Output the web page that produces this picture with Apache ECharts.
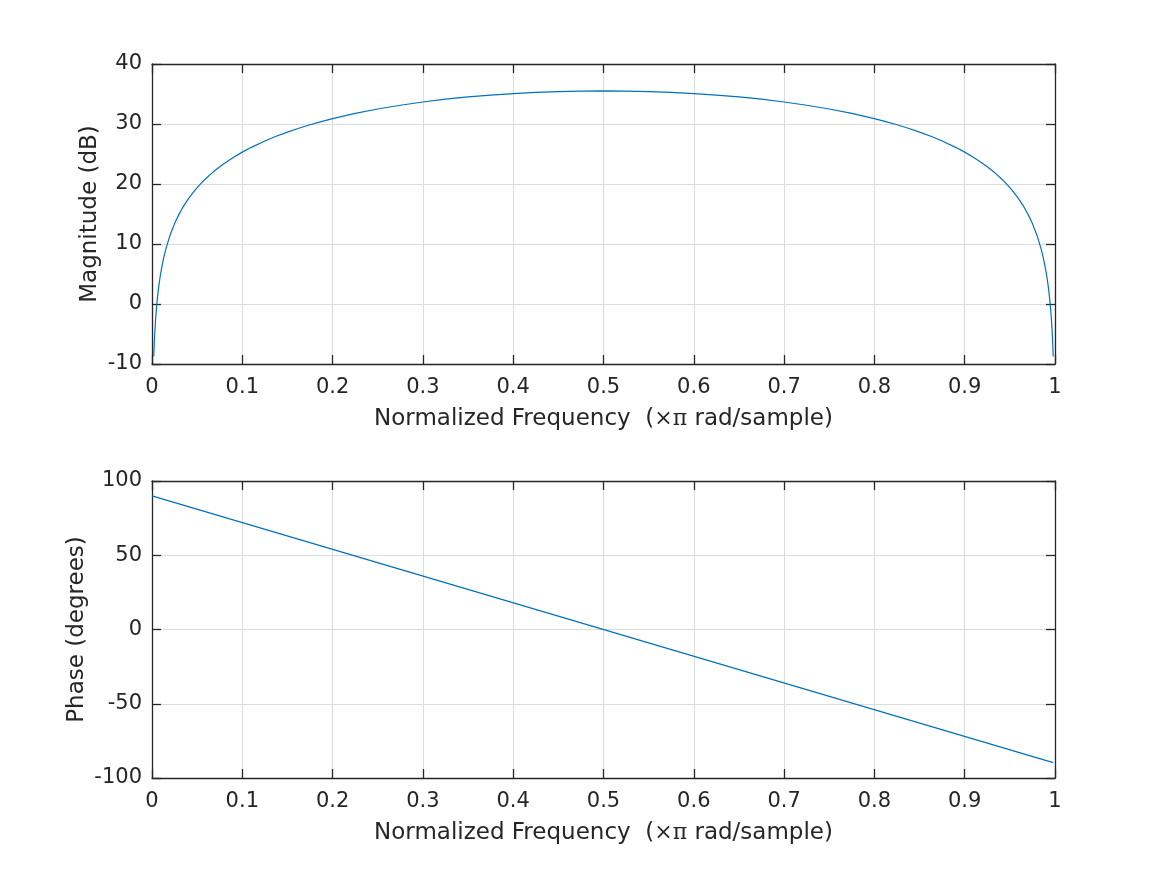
<!DOCTYPE html>
<html lang="en">
<head>
    <meta charset="UTF-8">
    <title>freqz</title>
    <script src="https://cdn.jsdelivr.net/npm/echarts@6/dist/echarts.min.js"></script>
</head>
<body style="margin:0;background:#fff;">
<div id="main" style="width: 1167px;height:875px;"></div>
<script type="text/javascript">
    // values
    var magFreq = [0.00195, 0.0025, 0.003, 0.004, 0.005, 0.006, 0.007, 0.008, 0.009, 0.01, 0.0125, 0.015, 0.02,
        0.025, 0.03, 0.035, 0.04, 0.045, 0.05, 0.055, 0.06, 0.065, 0.07, 0.075, 0.08, 0.09, 0.1, 0.11, 0.125,
        0.1375, 0.15, 0.1625, 0.175, 0.1875, 0.2, 0.225, 0.25, 0.275, 0.3, 0.325, 0.35, 0.375, 0.4, 0.425, 0.45,
        0.475, 0.5,
        0.525, 0.55, 0.575, 0.6, 0.625, 0.65, 0.675, 0.7, 0.725, 0.75, 0.775, 0.8, 0.8125, 0.825, 0.8375, 0.85,
        0.8625, 0.875, 0.89, 0.9, 0.91, 0.92, 0.925, 0.93, 0.935, 0.94, 0.945, 0.95, 0.955, 0.96, 0.965, 0.97,
        0.975, 0.98, 0.985, 0.9875, 0.99, 0.991, 0.992, 0.993, 0.994, 0.995, 0.996, 0.997, 0.9975, 0.99805];
    var magDb = [-8.73, -6.59, -5.00, -2.51, -0.57, 1.02, 2.36, 3.52, 4.54, 5.45, 7.39, 8.97, 11.47,
        13.40, 14.98, 16.32, 17.47, 18.49, 19.40, 20.22, 20.96, 21.65, 22.28, 22.87, 23.42, 24.42, 25.31, 26.11, 27.17,
        27.95, 28.65, 29.29, 29.87, 30.40, 30.89, 31.76, 32.50, 33.13, 33.67, 34.13, 34.51, 34.82, 35.07, 35.27, 35.40,
        35.48, 35.51,
        35.48, 35.40, 35.27, 35.07, 34.82, 34.51, 34.13, 33.67, 33.13, 32.50, 31.76, 30.89, 30.40, 29.87, 29.29, 28.65,
        27.95, 27.17, 26.11, 25.31, 24.42, 23.42, 22.87, 22.28, 21.65, 20.96, 20.22, 19.40, 18.49, 17.47, 16.32, 14.98,
        13.40, 11.47, 8.97, 7.39, 5.45, 4.54, 3.52, 2.36, 1.02, -0.57, -2.51, -5.00, -6.59, -8.73];
    var phaseFreq = [0, 0.998];
    var phaseDeg = [90, -89.65];

    var xTitle = 'Normalized Frequency  ({pi|\u00d7\u03c0} rad/sample)';

    function zip(a, b) {
        var out = [];
        for (var i = 0; i < a.length; i++) out.push([a[i], b[i]]);
        return out;
    }

    var txt = '#262626';
    var font = 'DejaVu Sans';
    var line = {show: true, onZero: false, lineStyle: {color: txt, width: 1.3}};
    var tick = {show: true, inside: true, length: 9, lineStyle: {color: txt, width: 1.3}};
    var grid = {show: true, lineStyle: {color: '#dcdcdc', width: 1}};

    function bottomX(idx) {
        return {
            type: 'value', gridIndex: idx, min: 0, max: 1, interval: 0.1, position: 'bottom',
            name: xTitle, nameLocation: 'middle', nameGap: 44, nameMoveOverlap: false,
            nameTextStyle: {color: txt, fontSize: 23, fontFamily: font,
                rich: {pi: {fontFamily: 'DejaVu Serif', fontSize: 22, color: txt}}},
            axisLine: line, axisTick: tick,
            axisLabel: {color: txt, fontSize: 21, fontFamily: font, margin: 13,
                formatter: function (v) { return +v.toFixed(1) + ''; }},
            splitLine: grid
        };
    }
    function topX(idx) {
        return {
            type: 'value', gridIndex: idx, min: 0, max: 1, interval: 0.1, position: 'top',
            axisLine: line, axisTick: tick,
            axisLabel: {show: false}, splitLine: {show: false}
        };
    }
    function leftY(idx, mn, mx, step, name, gap) {
        return {
            type: 'value', gridIndex: idx, min: mn, max: mx, interval: step, position: 'left',
            name: name, nameLocation: 'middle', nameGap: gap, nameMoveOverlap: false,
            nameTextStyle: {color: txt, fontSize: 23, fontFamily: font},
            axisLine: line, axisTick: tick,
            axisLabel: {color: txt, fontSize: 21, fontFamily: font, margin: 10, padding: [4, 0, 0, 0]},
            splitLine: grid
        };
    }
    function rightY(idx, mn, mx, step) {
        return {
            type: 'value', gridIndex: idx, min: mn, max: mx, interval: step, position: 'right',
            axisLine: line, axisTick: tick,
            axisLabel: {show: false}, splitLine: {show: false}
        };
    }

    var myChart = echarts.init(document.getElementById('main'));
    var option = {
        animation: false,
        backgroundColor: '#ffffff',
        grid: [
            {left: 152, right: 112, top: 64, height: 300},
            {left: 152, right: 112, top: 481, height: 297}
        ],
        xAxis: [bottomX(0), topX(0), bottomX(1), topX(1)],
        yAxis: [
            leftY(0, -10, 40, 10, 'Magnitude (dB)', 50),
            rightY(0, -10, 40, 10),
            leftY(1, -100, 100, 50, 'Phase (degrees)', 63),
            rightY(1, -100, 100, 50)
        ],
        series: [
            {
                type: 'line', xAxisIndex: 0, yAxisIndex: 0, data: zip(magFreq, magDb),
                showSymbol: false, smooth: false, lineStyle: {color: '#0072BD', width: 1.2}
            },
            {
                type: 'line', xAxisIndex: 2, yAxisIndex: 2, data: zip(phaseFreq, phaseDeg),
                showSymbol: false, lineStyle: {color: '#0072BD', width: 1.2}
            }
        ]
    };
    myChart.setOption(option);
</script>
</body>
</html>
